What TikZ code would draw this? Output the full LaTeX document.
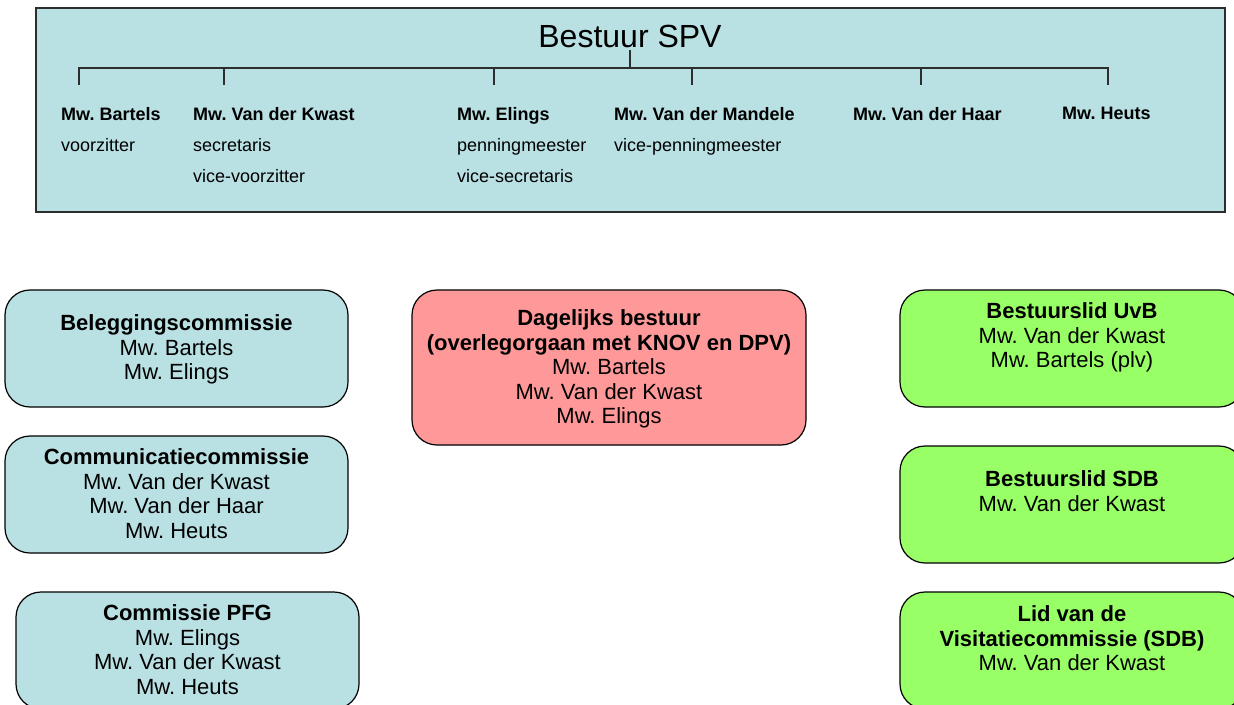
\documentclass[tikz,border=0pt]{standalone}
\usepackage{fontspec}
\setmainfont{Liberation Sans}
\frenchspacing

\definecolor{spvblauw}{RGB}{185,224,227}
\definecolor{dbrood}{RGB}{255,153,153}
\definecolor{lidgroen}{RGB}{153,255,102}
\definecolor{lijn}{RGB}{45,45,45}

\tikzset{
  kader/.style={draw=lijn, line width=1.3pt, fill=spvblauw, inner sep=0pt},
  lid/.style={anchor=north west, align=left, inner sep=0pt, font=\fontsize{18}{31}\selectfont},
  boom/.style={draw=lijn, line width=1.2pt},
  commissie/.style={draw=black, line width=1.2pt, rounded corners=25pt, inner sep=0pt, minimum height=117pt},
  tekst/.style={anchor=north, align=center, inner sep=0pt, font=\fontsize{22}{24.5}\selectfont},
}

\begin{document}
\begin{tikzpicture}[x=1pt,y=-1pt]
            \clip (0,0) rectangle (1234,704);
            % bestuur
            \node[kader, minimum width=1189pt, minimum height=204pt] (bestuur) at (630.5,110) {};
            \node[anchor=base, inner sep=0pt, font=\fontsize{32}{38}\selectfont] (titel) at (630,47) {Bestuur SPV};
            \node[lid] (bartels) at (61,107) {\textbf{Mw. Bartels}\\voorzitter};
            \node[lid] (kwast) at (193,107) {\textbf{Mw. Van der Kwast}\\secretaris\\vice-voorzitter};
            \node[lid] (elings) at (457,107) {\textbf{Mw. Elings}\\penningmeester\\vice-secretaris};
            \node[lid] (mandele) at (614,107) {\textbf{Mw. Van der Mandele}\\vice-penningmeester};
            \node[lid] (haar) at (853,107) {\textbf{Mw. Van der Haar}};
            \node[lid] (heuts) at (1062,107) {\textbf{Mw. Heuts}};
            \coordinate (top) at (630,50);
            \coordinate (hub) at (630,68);
            \foreach \n/\x in {1/79,2/224,3/494,4/692,5/921,6/1108}{
                \coordinate (t\n) at (\x,68);
                \coordinate (d\n) at (\x,85);
            }
            \draw[boom] (top) -- (hub);
            \draw[boom] (d1) -- (t1) -- (t6) -- (d6);
            \foreach \n in {2,...,5} \draw[boom] (t\n) -- (d\n);
            % commissies
            \node[commissie, fill=spvblauw, minimum width=343pt] (beleg) at (176.5,348.5) {};
            \node[tekst] (belegtekst) at ([yshift=-25pt]beleg.north) {\textbf{Beleggingscommissie}\\Mw. Bartels\\Mw. Elings};
            \node[commissie, fill=spvblauw, minimum width=343pt] (comm) at (176.5,494.5) {};
            \node[tekst] (commtekst) at ([yshift=-13pt]comm.north) {\textbf{Communicatiecommissie}\\Mw. Van der Kwast\\Mw. Van der Haar\\Mw. Heuts};
            \node[commissie, fill=spvblauw, minimum width=343pt] (pfg) at (187.5,650.5) {};
            \node[tekst] (pfgtekst) at ([yshift=-13pt]pfg.north) {\textbf{Commissie PFG}\\Mw. Elings\\Mw. Van der Kwast\\Mw. Heuts};
            % dagelijks bestuur
            \node[commissie, fill=dbrood, minimum width=394pt, minimum height=155pt] (db) at (609,367.5) {};
            \node[tekst] (dbtekst) at ([yshift=-20pt]db.north) {\textbf{Dagelijks bestuur}\\\textbf{(overlegorgaan met KNOV en DPV)}\\Mw. Bartels\\Mw. Van der Kwast\\Mw. Elings};
            % externe functies
            \node[commissie, fill=lidgroen, minimum width=344pt] (uvb) at (1072,348.5) {};
            \node[tekst] (uvbtekst) at ([yshift=-13pt]uvb.north) {\textbf{Bestuurslid UvB}\\Mw. Van der Kwast\\Mw. Bartels (plv)};
            \node[commissie, fill=lidgroen, minimum width=344pt] (sdb) at (1072,504.5) {};
            \node[tekst] (sdbtekst) at ([yshift=-25pt]sdb.north) {\textbf{Bestuurslid SDB}\\Mw. Van der Kwast};
            \node[commissie, fill=lidgroen, minimum width=344pt] (visitatie) at (1072,650.5) {};
            \node[tekst] (visitatietekst) at ([yshift=-14pt]visitatie.north) {\textbf{Lid van de}\\\textbf{Visitatiecommissie (SDB)}\\Mw. Van der Kwast};
\end{tikzpicture}
\end{document}
